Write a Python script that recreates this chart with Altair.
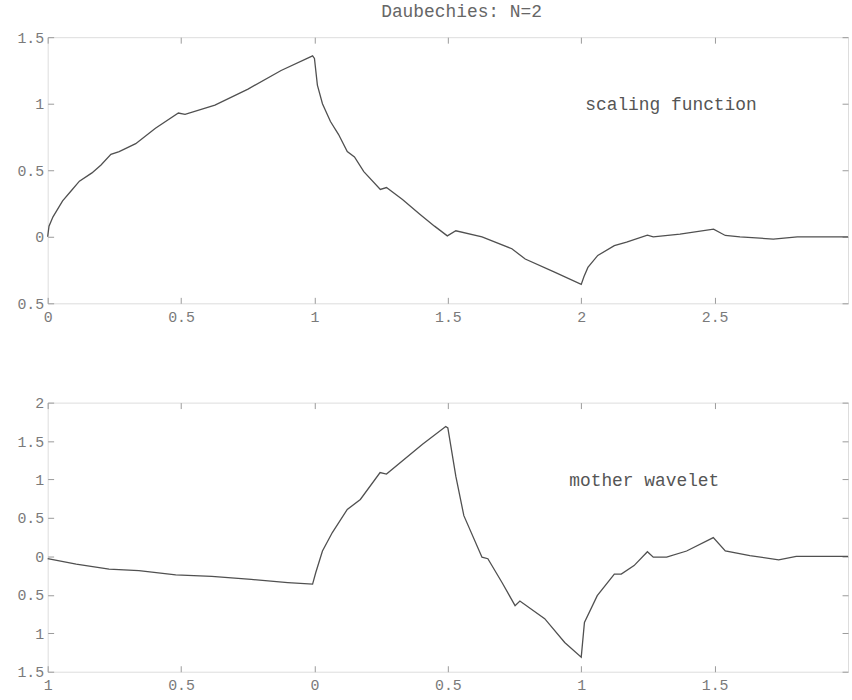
import altair as alt
import pandas as pd

# ---- data ----
scaling_x = [0.0, 0.005, 0.02, 0.056, 0.09, 0.119, 0.166, 0.2, 0.237, 0.268, 0.33, 0.404,
             0.49, 0.515, 0.627, 0.751, 0.875, 0.993, 1.0, 1.011, 1.03, 1.06, 1.09, 1.123,
             1.15, 1.185, 1.247, 1.27, 1.33, 1.395, 1.45, 1.498, 1.53, 1.628, 1.74, 1.79,
             1.9, 2.0, 2.01, 2.025, 2.062, 2.124, 2.17, 2.248, 2.27, 2.37, 2.496, 2.54,
             2.595, 2.72, 2.81, 3.0]
scaling_y = [0.0, 0.08, 0.15, 0.27, 0.35, 0.418, 0.48, 0.54, 0.62, 0.64, 0.70, 0.816,
             0.93, 0.92, 0.99, 1.11, 1.25, 1.36, 1.34, 1.14, 1.0, 0.866, 0.77, 0.64,
             0.6, 0.49, 0.356, 0.37, 0.28, 0.17, 0.08, 0.007, 0.045, 0.0, -0.09, -0.167,
             -0.266, -0.358, -0.3, -0.23, -0.14, -0.067, -0.04, 0.013, 0.0, 0.02, 0.057, 0.01,
             0.0, -0.017, 0.0, 0.0]

wavelet_x = [-1.0, -0.893, -0.77, -0.658, -0.52, -0.385, -0.237, -0.1, -0.007, 0.005,
             0.03, 0.067, 0.123, 0.172, 0.246, 0.27, 0.405, 0.492, 0.5, 0.53, 0.56, 0.628,
             0.65, 0.703, 0.752, 0.77, 0.863, 0.938, 1.0, 1.012, 1.06, 1.124, 1.15, 1.198,
             1.248, 1.27, 1.32, 1.395, 1.495, 1.54, 1.632, 1.74, 1.806, 2.0]
wavelet_y = [-0.03, -0.1, -0.165, -0.185, -0.24, -0.26, -0.30, -0.34, -0.36, -0.21,
             0.07, 0.31, 0.61, 0.74, 1.09, 1.07, 1.46, 1.69, 1.67, 1.04, 0.53, -0.01,
             -0.03, -0.34, -0.64, -0.58, -0.81, -1.12, -1.31, -0.86, -0.51, -0.23, -0.23, -0.12,
             0.06, -0.01, -0.01, 0.07, 0.245, 0.07, 0.01, -0.045, 0.0, 0.0]

top_x_ticks = [0, 0.5, 1, 1.5, 2, 2.5]
top_y_ticks = [-0.5, 0, 0.5, 1, 1.5]
bottom_x_ticks = [-1, -0.5, 0, 0.5, 1, 1.5]
bottom_y_ticks = [-1.5, -1, -0.5, 0, 0.5, 1, 1.5, 2]

title_text = "Daubechies: N=2"
top_note = "scaling function"
bottom_note = "mother wavelet"

FONT = "Liberation Mono"
AXIS_GRAY = "#9a9a9a"
LABEL_GRAY = "#7a7a7a"
LINE = "#505050"
W = 806

label_expr = "replace(replace(datum.label, '\u2212', ''), '-', '')"


def panel(xs, ys, xdom, ydom, xt, yt, note, note_x, note_y, h):
    df = pd.DataFrame({"x": xs, "y": ys})
    nd = pd.DataFrame({"x": [note_x], "y": [note_y], "t": [note]})
    xscale = alt.Scale(domain=xdom, nice=False, zero=False)
    yscale = alt.Scale(domain=ydom, nice=False, zero=False)
    common = dict(domain=False, grid=False, tickColor=AXIS_GRAY, tickSize=6,
                  tickWidth=1, offset=-6, title=None)
    lab = dict(format="~g", labelExpr=label_expr, labelFont=FONT, labelFontSize=15,
               labelColor=LABEL_GRAY, labelOverlap=False, labelFlush=False)
    line = alt.Chart(df).mark_line(color=LINE, strokeWidth=1.3).encode(
        x=alt.X("x:Q", scale=xscale,
                axis=alt.Axis(orient="bottom", values=xt, labelPadding=6, **lab, **common)),
        y=alt.Y("y:Q", scale=yscale,
                axis=alt.Axis(orient="left", values=yt, labelPadding=4, **lab, **common)),
    )
    text = alt.Chart(nd).mark_text(align="left", baseline="middle", font=FONT,
                                   fontSize=18, color="#555555").encode(
        x=alt.X("x:Q", scale=xscale,
                axis=alt.Axis(orient="top", values=xt, labels=False, minExtent=0,
                              maxExtent=0, **common)),
        y=alt.Y("y:Q", scale=yscale,
                axis=alt.Axis(orient="right", values=yt, labels=False, minExtent=0,
                              maxExtent=0, **common)),
        text="t:N",
    )
    return alt.layer(line, text).resolve_axis(x="independent", y="independent").properties(
        width=W, height=h)


top = panel(scaling_x, scaling_y, [0, 3], [-0.5, 1.5], top_x_ticks, top_y_ticks,
            top_note, 2.015, 0.99, 268)
bottom = panel(wavelet_x, wavelet_y, [-1, 2], [-1.5, 2], bottom_x_ticks, bottom_y_ticks,
               bottom_note, 0.955, 0.98, 271)

chart = alt.vconcat(top, bottom, spacing=70).properties(
    title=alt.TitleParams(title_text, font=FONT, fontSize=18, color="#666666",
                          fontWeight="normal", anchor="middle", offset=9, dx=28),
    padding={"left": 16, "top": 0, "right": 0, "bottom": 0},
).configure_view(stroke=AXIS_GRAY, strokeWidth=1.5).configure(background="white")

chart.save("out.html", embed_options={"renderer": "svg", "actions": False})
